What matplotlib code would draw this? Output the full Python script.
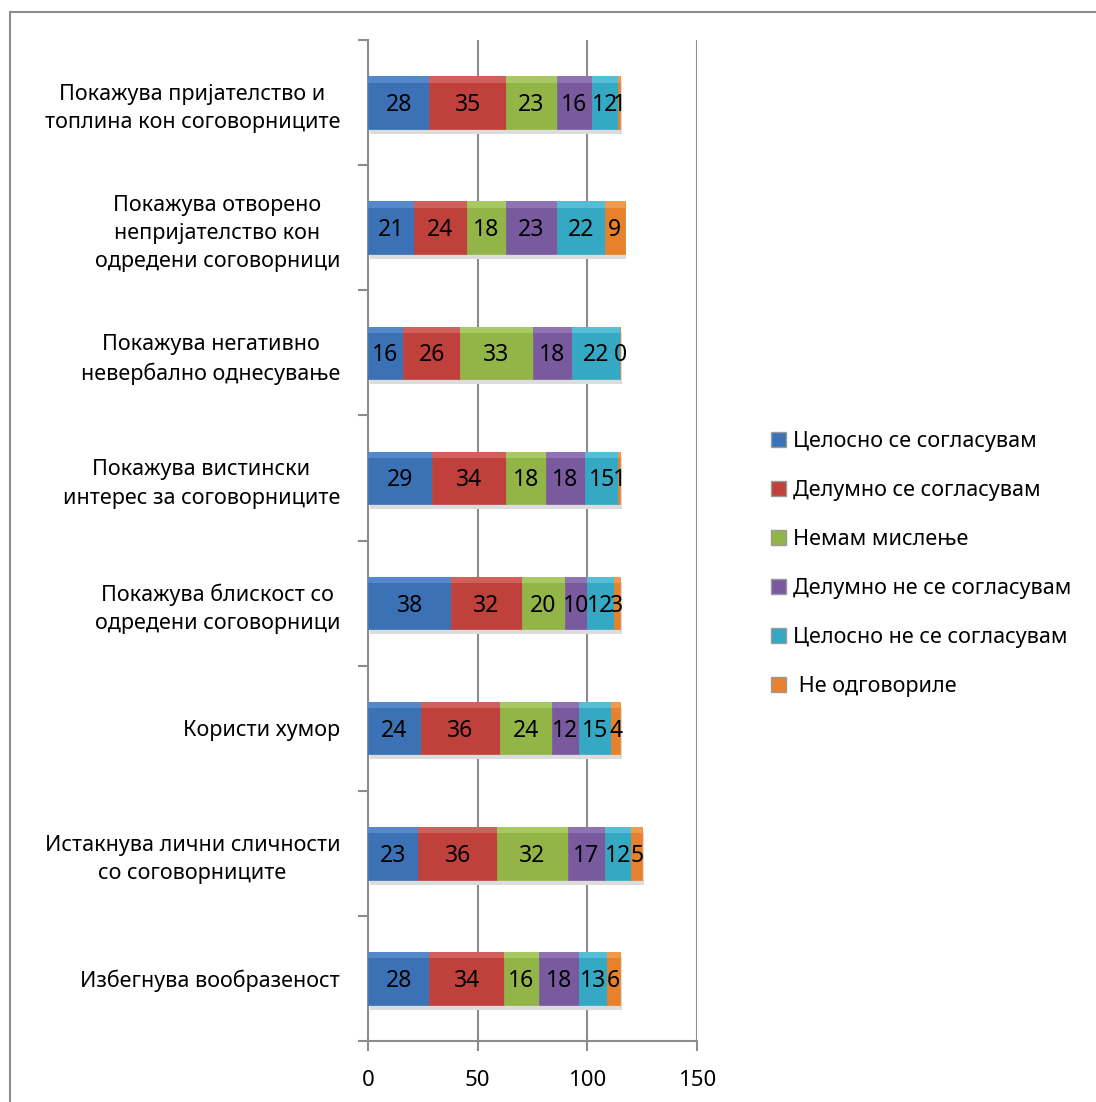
import matplotlib
matplotlib.use("Agg")
import matplotlib.pyplot as plt
import matplotlib.patches as mpatches
import numpy as np

plt.rcParams['font.family'] = ['Noto Sans', 'DejaVu Sans']

categories = [
    "Покажува пријателство и\nтоплина кон соговорниците",
    "Покажува отворено\nнепријателство кон\nодредени соговорници",
    "Покажува негативно\nневербално однесување",
    "Покажува вистински\nинтерес за соговорниците",
    "Покажува блискост со\nодредени соговорници",
    "Користи хумор",
    "Истакнува лични сличности\nсо соговорниците",
    "Избегнува вообразеност",
]

series_names = [
    "Целосно се согласувам",
    "Делумно се согласувам",
    "Немам мислење",
    "Делумно не се согласувам",
    "Целосно не се согласувам",
    " Не одговориле",
]

celosno_da = [28, 21, 16, 29, 38, 24, 23, 28]
delumno_da = [35, 24, 26, 34, 32, 36, 36, 34]
nemam = [23, 18, 33, 18, 20, 24, 32, 16]
delumno_ne = [16, 23, 18, 18, 10, 12, 17, 18]
celosno_ne = [12, 22, 22, 15, 12, 15, 12, 13]
bez_odgovor = [1, 9, 0, 1, 3, 4, 5, 6]

series = [celosno_da, delumno_da, nemam, delumno_ne, celosno_ne, bez_odgovor]
colors = ["#3b72b5", "#c0413c", "#93b548", "#7a5a9e", "#35a9c4", "#e7812c"]
light = ["#5588c8", "#d0605b", "#a8c862", "#8f72b2", "#55bdd6", "#f09a4c"]
xticks = [0, 50, 100, 150]

fig = plt.figure(figsize=(10.96, 11.02), dpi=100)
ax = fig.add_axes([368 / 1096, 1 - 1041 / 1102, (697 - 368) / 1096, (1041 - 40) / 1102])

# chart frame
fig.patches.append(mpatches.Rectangle((10 / 1096, -0.1), 1.2, 1 - 12 / 1102 + 0.1,
                                      transform=fig.transFigure, fill=False,
                                      edgecolor="#8c8c8c", linewidth=1.5))

y = np.arange(len(categories))
h = 0.42
left = np.zeros(len(categories))

# drop shadow under each stacked bar
totals = np.sum(series, axis=0)
ax.barh(y + 0.04, totals, height=h, left=0.8, color="#dcdcdc", zorder=2)

for vals, col, lc, name in zip(series, colors, light, series_names):
    vals = np.array(vals)
    ax.barh(y, vals, height=h, left=left, color=col, edgecolor=col,
            linewidth=0.5, label=name, zorder=3)
    # lighter band along the top edge for a bevel look
    ax.barh(y - h / 2 + 0.025, vals, height=0.05, left=left, color=lc,
            linewidth=0, zorder=3.5)
    for yi, l, v in zip(y, left, vals):
        ax.text(l + v / 2, yi + 0.02, str(v), ha="center", va="center",
                fontsize=16.5, color="black", zorder=5)
    left = left + vals

ax.set_xlim(0, 150)
ax.set_ylim(len(categories) - 0.5, -0.5)
ax.set_xticks(xticks)
ax.set_xticklabels([str(t) for t in xticks], fontsize=16)
ax.set_yticks(y)
ax.set_yticklabels(categories, fontsize=15.5, multialignment="center", linespacing=1.45)
ax.set_yticks(np.arange(len(categories) + 1) - 0.5, minor=True)
ax.tick_params(axis="y", which="major", length=0, pad=20)
ax.tick_params(axis="y", which="minor", length=7, width=1.5, color="#8c8c8c", direction="out")
ax.tick_params(axis="x", length=7, width=1.5, color="#8c8c8c", pad=14)
ax.xaxis.grid(True, color="#8c8c8c", linewidth=1.5, zorder=1)
ax.set_axisbelow(True)
for s in ["top", "right"]:
    ax.spines[s].set_visible(False)
for s in ["left", "bottom"]:
    ax.spines[s].set_color("#8c8c8c")
    ax.spines[s].set_linewidth(1.5)

handles = [mpatches.Patch(facecolor=c, edgecolor="#9a9a9a") for c in colors]
fig.legend(handles, series_names, loc="upper left",
           bbox_to_anchor=(752 / 1096, 1 - 412 / 1102), frameon=False,
           fontsize=15.5, handlelength=0.7, handleheight=0.7, handletextpad=0.3,
           labelspacing=1.3)

fig.savefig("out.png", dpi=100)
